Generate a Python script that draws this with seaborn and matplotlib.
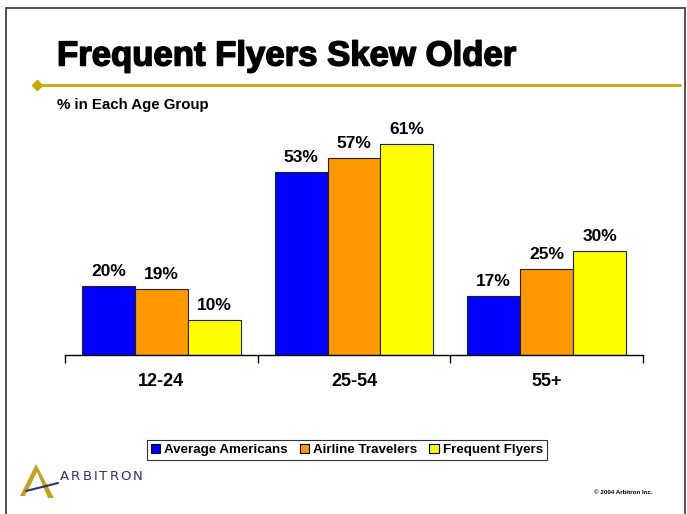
import pandas as pd
import matplotlib
matplotlib.use("Agg")
import matplotlib.pyplot as plt
import matplotlib.patheffects as pe
from matplotlib.patches import Rectangle, Polygon
from matplotlib.lines import Line2D
import seaborn as sns

# Data
age_groups = ["12-24", "25-54", "55+"]
series = ["Average Americans", "Airline Travelers", "Frequent Flyers"]
avg_americans = [20, 53, 17]
airline_travelers = [19, 57, 25]
frequent_flyers = [10, 61, 30]
colors = ["#0000FF", "#FF9900", "#FFFF00"]

df = pd.DataFrame({
    "age": age_groups * 3,
    "series": [s for s in series for _ in age_groups],
    "pct": avg_americans + airline_travelers + frequent_flyers,
})

sns.set_style("white")
plt.rcParams["font.family"] = ["Liberation Sans", "DejaVu Sans"]
plt.rcParams["text.color"] = "black"
plt.rcParams["xtick.color"] = "black"

fig = plt.figure(figsize=(6.87, 5.14), dpi=100)
ax = fig.add_axes([65 / 687, 159 / 514, 578 / 687, 242 / 514])

sns.barplot(data=df, x="age", y="pct", hue="series", order=age_groups,
            hue_order=series, palette=colors, width=0.824, saturation=1,
            edgecolor="#222222", linewidth=0.8, legend=False, ax=ax)

for cont in ax.containers:
    ax.bar_label(cont, labels=[f"{v:.0f}%" for v in cont.datavalues],
                 padding=5, fontsize=12.5, fontweight="bold", color="black")

ax.set_xlim(-0.5, 2.5)
ax.set_ylim(0, 70)
ax.set_yticks([])
ax.set_xlabel("")
ax.set_ylabel("")
for s in ["left", "top", "right"]:
    ax.spines[s].set_visible(False)
ax.spines["bottom"].set_color("black")
ax.spines["bottom"].set_linewidth(1)
ax.set_xticks([-0.5, 0.5, 1.5, 2.5], minor=True)
ax.tick_params(axis="x", which="minor", bottom=True, length=6, width=1,
               color="black", direction="out")
ax.tick_params(axis="x", which="major", length=0, pad=13, labelcolor="black")
for lbl in ax.get_xticklabels():
    lbl.set_fontsize(13)
    lbl.set_fontweight("bold")

# Legend
handles = [Rectangle((0, 0), 1, 1, facecolor=c, edgecolor="black", linewidth=0.8) for c in colors]
leg = fig.legend(handles, series, loc="center", bbox_to_anchor=(347 / 687, 1 - 450 / 514),
                 ncol=3, frameon=True, fancybox=False, edgecolor="black",
                 prop={"weight": "bold", "size": 9.6}, handlelength=0.7, handleheight=0.7,
                 handletextpad=0.3, columnspacing=0.9, borderpad=0.3, borderaxespad=0)
leg.get_frame().set_linewidth(0.8)

# Slide decorations
fig.text(57 / 687, 1 - 56 / 514, "Frequent Flyers Skew Older", fontsize=25,
         fontweight="bold", va="center", ha="left",
         path_effects=[pe.withStroke(linewidth=1.1, foreground="black")])
fig.text(57 / 687, 1 - 105 / 514, "% in Each Age Group", fontsize=10.8,
         fontweight="bold", va="center", ha="left")
fig.add_artist(Line2D([37 / 687, 680 / 687], [1 - 85 / 514, 1 - 85 / 514],
                      color="#C8A600", linewidth=2))
fig.add_artist(Line2D([37 / 687], [1 - 85 / 514], marker="D", markersize=5,
                      color="#C8A600", linestyle="none"))
fig.add_artist(Rectangle((6 / 687, -0.05), 679 / 687, 1.05 - 8 / 514, fill=False,
                         edgecolor="#333333", linewidth=1.2, transform=fig.transFigure))

# Logo
def px(x, y):
    return (x / 687, 1 - y / 514)
fig.add_artist(Polygon([px(36, 464), px(20, 496), px(25, 496), px(37, 472),
                        px(48, 498), px(54, 498)], closed=True,
                       facecolor="#C3A21A", edgecolor="none", transform=fig.transFigure))
fig.add_artist(Line2D([26 / 687, 58 / 687], [1 - 491 / 514, 1 - 483 / 514],
                      color="#2B3270", linewidth=1.5))

# letter-spaced wordmark, evenly spread between x=60 and x=143
renderer = fig.canvas.get_renderer()
letters = [fig.text(0, 1 - 476 / 514, ch, fontsize=9.5, color="#2B3270", va="center",
                    ha="left", family="DejaVu Sans") for ch in "ARBITRON"]
widths = [t.get_window_extent(renderer).width for t in letters]
gap = (83 - sum(widths)) / (len(letters) - 1)
x = 60
for t, w in zip(letters, widths):
    t.set_x(x / 687)
    x += w + gap

fig.text(653 / 687, 1 - 493 / 514, "\u00a9 2004 Arbitron Inc.", fontsize=4.5,
         fontweight="bold", va="center", ha="right")

fig.savefig("out.png", dpi=100)
